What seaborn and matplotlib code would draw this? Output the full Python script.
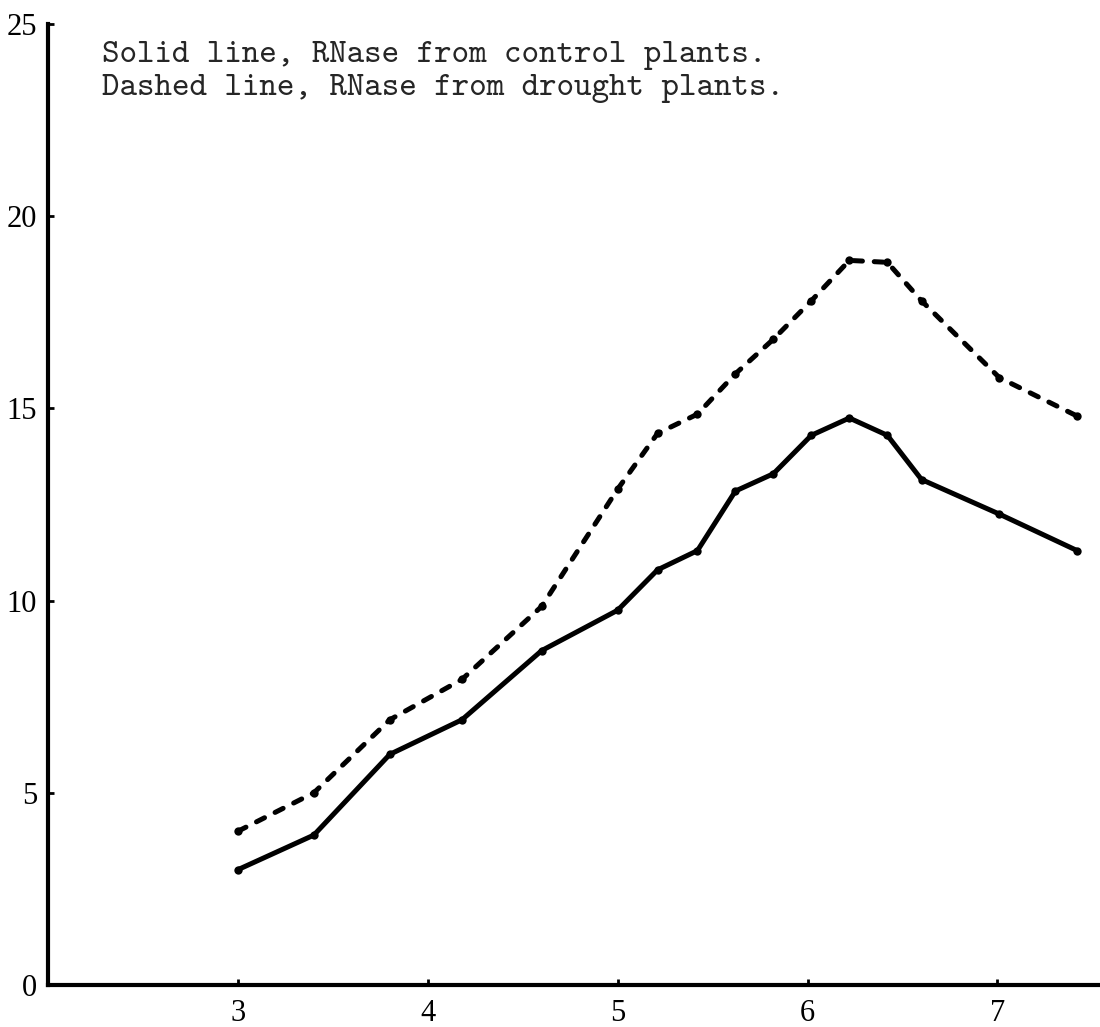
import numpy as np
import pandas as pd
import matplotlib
matplotlib.use("Agg")
import matplotlib.pyplot as plt
import seaborn as sns

# ---- data ----
ph = [3.0, 3.4, 3.8, 4.18, 4.6, 5.0, 5.21, 5.42, 5.62, 5.82, 6.02, 6.22, 6.42, 6.6, 7.01, 7.42]
control = [3.0, 3.9, 6.0, 6.9, 8.7, 9.75, 10.8, 11.3, 12.85, 13.3, 14.3, 14.75, 14.3, 13.15, 12.25, 11.3]
drought = [4.0, 5.0, 6.9, 7.95, 9.85, 12.9, 14.35, 14.85, 15.9, 16.8, 17.8, 18.85, 18.8, 17.8, 15.8, 14.8]
x_ticks = [3, 4, 5, 6, 7]
y_ticks = [0, 5, 10, 15, 20, 25]
note_lines = ["Solid line, RNase from control plants.",
              "Dashed line, RNase from drought plants."]

sns.set_style("ticks")
plt.rcParams["font.family"] = ["cmtt10", "DejaVu Serif"]
plt.rcParams["lines.scale_dashes"] = False
plt.rcParams["axes.unicode_minus"] = False

W, H = 1100, 1027
fig = plt.figure(figsize=(W / 100, H / 100), dpi=100)
left_px, right_px, bottom_px, top_px = 48, 1100, 985, 24
ax = fig.add_axes([left_px / W, 1 - bottom_px / H, (right_px - left_px) / W, (bottom_px - top_px) / H])

df = pd.DataFrame({"pH": ph + ph,
                   "value": control + drought,
                   "series": ["control"] * len(ph) + ["drought"] * len(ph)})

sns.lineplot(data=df[df.series == "control"], x="pH", y="value", ax=ax,
             color="black", lw=3.6, marker="o", markersize=6,
             markeredgewidth=0, solid_capstyle="round", legend=False)
sns.lineplot(data=df[df.series == "drought"], x="pH", y="value", ax=ax,
             color="black", lw=3.6, marker="o", markersize=6,
             markeredgewidth=0, legend=False)
line = ax.lines[-1]
line.set_linestyle((0, (6.5, 8.5)))
line.set_dash_capstyle("round")

ax.set_xlim(2.0, 7.54)
ax.set_ylim(0, 25)
ax.set_xticks(x_ticks)
ax.set_yticks(y_ticks)
tick_font = dict(family=["Liberation Serif", "DejaVu Serif"], size=22)
ax.set_xticklabels([str(v) for v in x_ticks], **tick_font)
ax.set_yticklabels([str(v) for v in y_ticks], **tick_font)
ax.set_xlabel("")
ax.set_ylabel("")

for s in ["top", "right"]:
    ax.spines[s].set_visible(False)
for s in ["left", "bottom"]:
    ax.spines[s].set_linewidth(3.0)
    ax.spines[s].set_color("black")

ax.tick_params(axis="both", direction="in", length=4, width=2, colors="black")
ax.tick_params(axis="x", pad=10)
ax.tick_params(axis="y", pad=8)

fig.text(102 / W, 1 - 62 / H, note_lines[0], fontsize=24, va="baseline", ha="left")
fig.text(102 / W, 1 - 95 / H, note_lines[1], fontsize=24, va="baseline", ha="left")

fig.savefig("out.png", dpi=100, facecolor="white")
